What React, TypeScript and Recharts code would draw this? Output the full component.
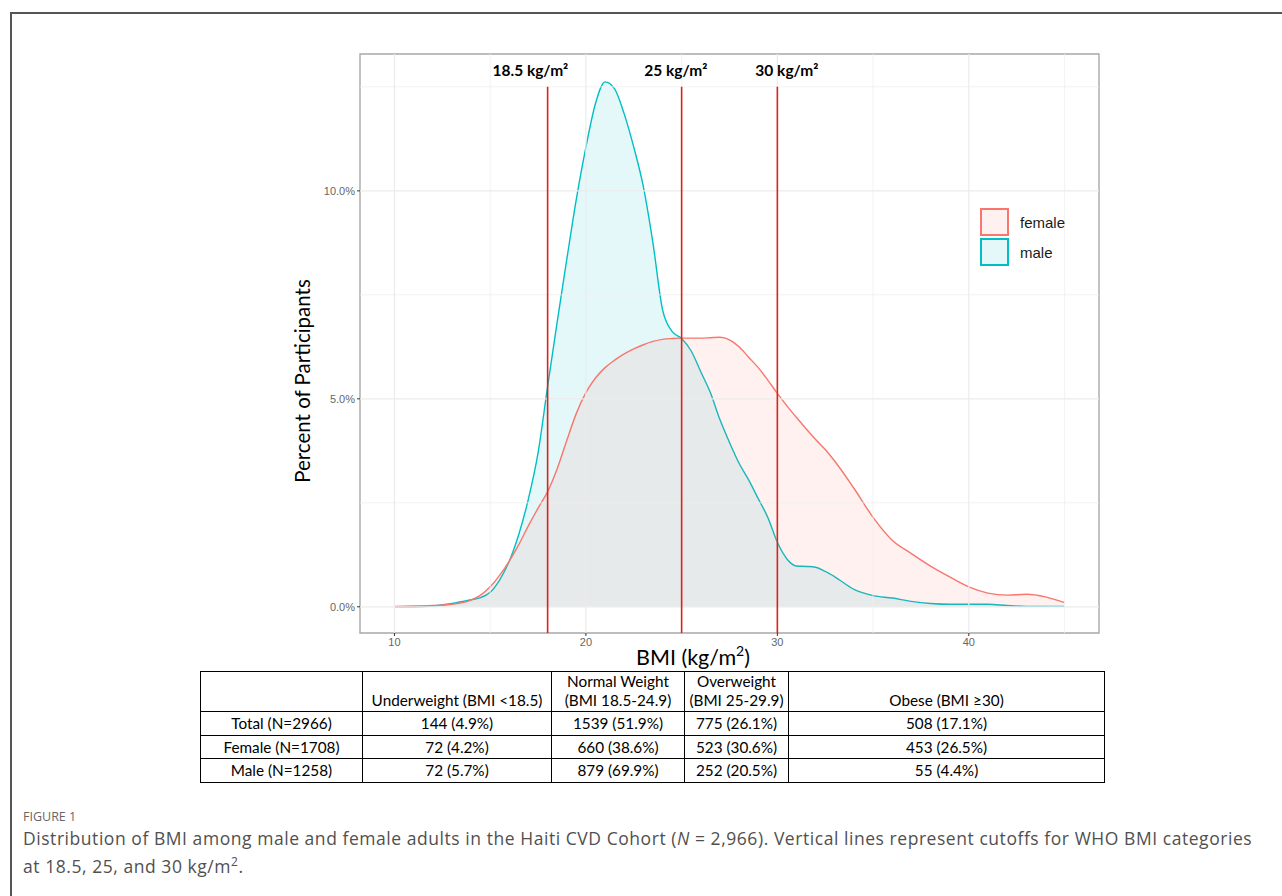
import React from "react";
import {
  ComposedChart,
  Area,
  XAxis,
  YAxis,
  ReferenceLine,
  ReferenceArea,
  ReferenceDot,
} from "recharts";

// BMI grid (kg/m2) and density, in percent of participants
const bmi = [
  10, 11, 12, 13, 14, 14.5, 15, 15.5, 16, 16.5, 17, 17.5, 18, 18.5, 19, 19.5,
  20, 20.5, 21, 21.5, 22, 22.5, 23, 23.5, 24, 24.5, 25, 25.5, 26, 26.5, 27,
  27.5, 28, 28.5, 29, 29.5, 30, 30.5, 31, 31.5, 32, 32.5, 33, 34, 35, 36, 37,
  38, 39, 40, 41, 42, 43, 44, 45,
];
const female = [
  0.01, 0.02, 0.03, 0.06, 0.16, 0.28, 0.48, 0.76, 1.1, 1.5, 1.95, 2.37, 2.77,
  3.32, 4.0, 4.65, 5.15, 5.5, 5.75, 5.93, 6.08, 6.2, 6.3, 6.38, 6.43, 6.45,
  6.46, 6.46, 6.46, 6.47, 6.48, 6.42, 6.25, 6.0, 5.75, 5.45, 5.13, 4.83, 4.55,
  4.28, 4.02, 3.78, 3.5, 2.85, 2.15, 1.6, 1.28, 0.98, 0.72, 0.48, 0.33, 0.28,
  0.3, 0.24, 0.1,
];
const male = [
  0.0, 0.0, 0.02, 0.08, 0.17, 0.22, 0.35, 0.65, 1.1, 1.75, 2.6, 3.7, 5.3, 6.85,
  8.35, 9.8, 11.05, 12.1, 12.62, 12.45, 11.85, 11.05, 10.1, 8.75, 7.15, 6.62,
  6.45, 6.15, 5.65, 5.15, 4.5, 3.95, 3.45, 3.05, 2.6, 2.15, 1.55, 1.15, 0.98,
  0.97, 0.95, 0.85, 0.72, 0.42, 0.27, 0.21, 0.13, 0.08, 0.06, 0.06, 0.06, 0.03,
  0.01, 0.01, 0.01,
];

const xTicks = [10, 20, 30, 40];
const yTicks = [0, 5, 10];
const gridMajorX = [10, 20, 30, 40];
const gridMinorX = [15, 25, 35, 45];
const gridMajorY = [0, 5, 10];
const gridMinorY = [2.5, 7.5, 12.5];

// WHO cutoffs: where the red lines sit and where their labels were placed
const cutoffLineX = [18, 25, 30];
const cutoffLabels = ["18.5 kg/m²", "25 kg/m²", "30 kg/m²"];
const cutoffLabelX = [17.1, 24.7, 30.5];
const cutoffTop = 12.5;
const cutoffLabelY = 12.9;

// table under the plot
const tableHeaders = [
  "",
  "Underweight (BMI <18.5)",
  "Normal Weight\n(BMI 18.5-24.9)",
  "Overweight\n(BMI 25-29.9)",
  "Obese (BMI ≥30)",
];
const rowLabels = ["Total (N=2966)", "Female (N=1708)", "Male (N=1258)"];
const underweight = ["144 (4.9%)", "72 (4.2%)", "72 (5.7%)"];
const normalWeight = ["1539 (51.9%)", "660 (38.6%)", "879 (69.9%)"];
const overweight = ["775 (26.1%)", "523 (30.6%)", "252 (20.5%)"];
const obese = ["508 (17.1%)", "453 (26.5%)", "55 (4.4%)"];

const series = [
  { key: "female", name: "female", color: "#F8766D", fill: "rgba(248,118,109,0.1)" },
  { key: "male", name: "male", color: "#00BFC4", fill: "rgba(0,191,196,0.1)" },
];
// male is painted first so the overlap turns grey like in the figure
const drawOrder = ["male", "female"];

const data = bmi.map((x, i) => ({ bmi: x, female: female[i], male: male[i] }));

const X_DOMAIN: [number, number] = [8.2, 46.8];
const Y_DOMAIN: [number, number] = [-0.63, 13.29];

const colWidths = [162, 189, 133, 104, 316];
const cellBorder = "1.5px solid #000";

function LegendBox() {
  return (
    <div
      style={{
        position: "absolute",
        left: 980,
        top: 207,
        fontFamily: "'Liberation Sans', Arial, sans-serif",
        fontSize: 15,
      }}
    >
      {series.map((s) => (
        <div key={s.key} style={{ display: "flex", alignItems: "center", height: 30 }}>
          <span
            style={{
              display: "inline-block",
              width: 25,
              height: 24,
              border: `2px solid ${s.color}`,
              background: s.fill,
            }}
          />
          <span style={{ marginLeft: 11, color: "#1a1a1a" }}>{s.name}</span>
        </div>
      ))}
    </div>
  );
}

export default function App() {
  return (
    <div
      style={{
        position: "relative",
        width: 1282,
        height: 896,
        background: "#fff",
        overflow: "hidden",
      }}
    >
      <style>{`body { margin: 0; }`}</style>

      {/* figure frame (top and left only) */}
      <div
        style={{
          position: "absolute",
          left: 10,
          top: 12,
          width: 1272,
          height: 884,
          borderTop: "2px solid #555",
          borderLeft: "2px solid #555",
        }}
      />

      <div style={{ position: "absolute", left: 0, top: 0 }}>
        <ComposedChart
          width={1282}
          height={700}
          data={data}
          margin={{ top: 54, right: 183, bottom: 37, left: 300 }}
          style={{ fontFamily: "'Liberation Sans', Arial, sans-serif" }}
        >
          <XAxis
            dataKey="bmi"
            type="number"
            domain={X_DOMAIN}
            ticks={xTicks}
            allowDataOverflow
            height={30}
            axisLine={false}
            tickLine={{ stroke: "#333" }}
            tickSize={3}
            tickMargin={2}
            tick={{ fill: "#666", fontSize: 11 }}
          />
          <YAxis
            type="number"
            domain={Y_DOMAIN}
            ticks={yTicks}
            allowDataOverflow
            width={60}
            axisLine={false}
            tickLine={{ stroke: "#333" }}
            tickSize={3}
            tickMargin={2}
            tick={{ fill: "#666", fontSize: 11 }}
            tickFormatter={(v: number) => `${v.toFixed(1)}%`}
          />

          {gridMinorX.map((x) => (
            <ReferenceLine key={`gx${x}`} x={x} stroke="#EFEFEF" strokeWidth={0.8} />
          ))}
          {gridMinorY.map((y) => (
            <ReferenceLine key={`gy${y}`} y={y} stroke="#EFEFEF" strokeWidth={0.8} />
          ))}
          {gridMajorX.map((x) => (
            <ReferenceLine key={`GX${x}`} x={x} stroke="#EBEBEB" strokeWidth={1.2} />
          ))}
          {gridMajorY.map((y) => (
            <ReferenceLine key={`GY${y}`} y={y} stroke="#EBEBEB" strokeWidth={1.2} />
          ))}

          {drawOrder.map((k) => {
            const s = series.find((e) => e.key === k)!;
            return (
              <Area
                key={s.key}
                dataKey={s.key}
                name={s.name}
                type="monotone"
                baseValue={0}
                stroke={s.color}
                strokeWidth={1.4}
                fill={s.color}
                fillOpacity={0.1}
                dot={false}
                activeDot={false}
                isAnimationActive={false}
              />
            );
          })}

          {cutoffLineX.map((x) => (
            <ReferenceLine
              key={`cut${x}`}
              segment={[
                { x, y: Y_DOMAIN[0] },
                { x, y: cutoffTop },
              ]}
              stroke="#E0201B"
              strokeWidth={1.6}
              ifOverflow="visible"
            />
          ))}
          {cutoffLabels.map((label, i) => (
            <ReferenceDot
              key={label}
              x={cutoffLabelX[i]}
              y={cutoffLabelY}
              r={1}
              fill="none"
              stroke="none"
              ifOverflow="visible"
              label={{
                value: label,
                position: "center",
                fill: "#000",
                fontSize: 15.5,
                fontWeight: 700,
                fontFamily: "Lato, sans-serif",
              }}
            />
          ))}

          <ReferenceArea
            x1={X_DOMAIN[0]}
            x2={X_DOMAIN[1]}
            y1={Y_DOMAIN[0]}
            y2={Y_DOMAIN[1]}
            fill="none"
            stroke="#A8A8A8"
            strokeWidth={1.4}
            ifOverflow="visible"
          />
        </ComposedChart>
      </div>

      <LegendBox />

      {/* axis titles */}
      <div
        style={{
          position: "absolute",
          left: 302,
          top: 381,
          transform: "translate(-50%, -50%) rotate(-90deg)",
          whiteSpace: "nowrap",
          fontFamily: "Lato, sans-serif",
          fontSize: 20.5,
          color: "#000",
        }}
      >
        Percent of Participants
      </div>
      <div
        style={{
          position: "absolute",
          left: 693,
          top: 656,
          transform: "translate(-50%, -50%)",
          whiteSpace: "nowrap",
          fontFamily: "Lato, sans-serif",
          fontSize: 21.5,
          color: "#000",
        }}
      >
        BMI (kg/m<sup style={{ fontSize: 14 }}>2</sup>)
      </div>

      {/* summary table */}
      <table
        style={{
          position: "absolute",
          left: 200,
          top: 671,
          borderCollapse: "collapse",
          fontFamily: "Lato, sans-serif",
          fontSize: 15.3,
          color: "#000",
          tableLayout: "fixed",
        }}
      >
        <colgroup>
          {colWidths.map((w, i) => (
            <col key={i} style={{ width: w }} />
          ))}
        </colgroup>
        <tbody>
          <tr style={{ height: 40 }}>
            {tableHeaders.map((h, i) => (
              <td
                key={i}
                style={{
                  border: cellBorder,
                  textAlign: "center",
                  verticalAlign: "bottom",
                  padding: "0 0 1px 0",
                  lineHeight: "19px",
                  whiteSpace: "pre",
                }}
              >
                {h}
              </td>
            ))}
          </tr>
          {rowLabels.map((r, i) => (
            <tr key={r} style={{ height: 23.5 }}>
              {[r, underweight[i], normalWeight[i], overweight[i], obese[i]].map((c, j) => (
                <td
                  key={j}
                  style={{
                    border: cellBorder,
                    textAlign: "center",
                    padding: 0,
                    lineHeight: "20px",
                  }}
                >
                  {c}
                </td>
              ))}
            </tr>
          ))}
        </tbody>
      </table>

      {/* caption */}
      <div
        style={{
          position: "absolute",
          left: 23,
          top: 808,
          fontFamily: "'Open Sans', sans-serif",
          fontSize: 12.5,
          color: "#666",
          lineHeight: "18px",
        }}
      >
        FIGURE 1
      </div>
      <div
        style={{
          position: "absolute",
          left: 23,
          top: 826,
          fontFamily: "'Open Sans', sans-serif",
          fontSize: 17.5,
          letterSpacing: 0.55,
          color: "#505050",
          lineHeight: "24px",
          whiteSpace: "nowrap",
        }}
      >
        Distribution of BMI among male and female adults in the Haiti CVD Cohort (<i>N</i> = 2,966).
        Vertical lines represent cutoffs for WHO BMI categories
        <br />
        at 18.5, 25, and 30 kg/m<sup style={{ fontSize: 12 }}>2</sup>.
      </div>
    </div>
  );
}
